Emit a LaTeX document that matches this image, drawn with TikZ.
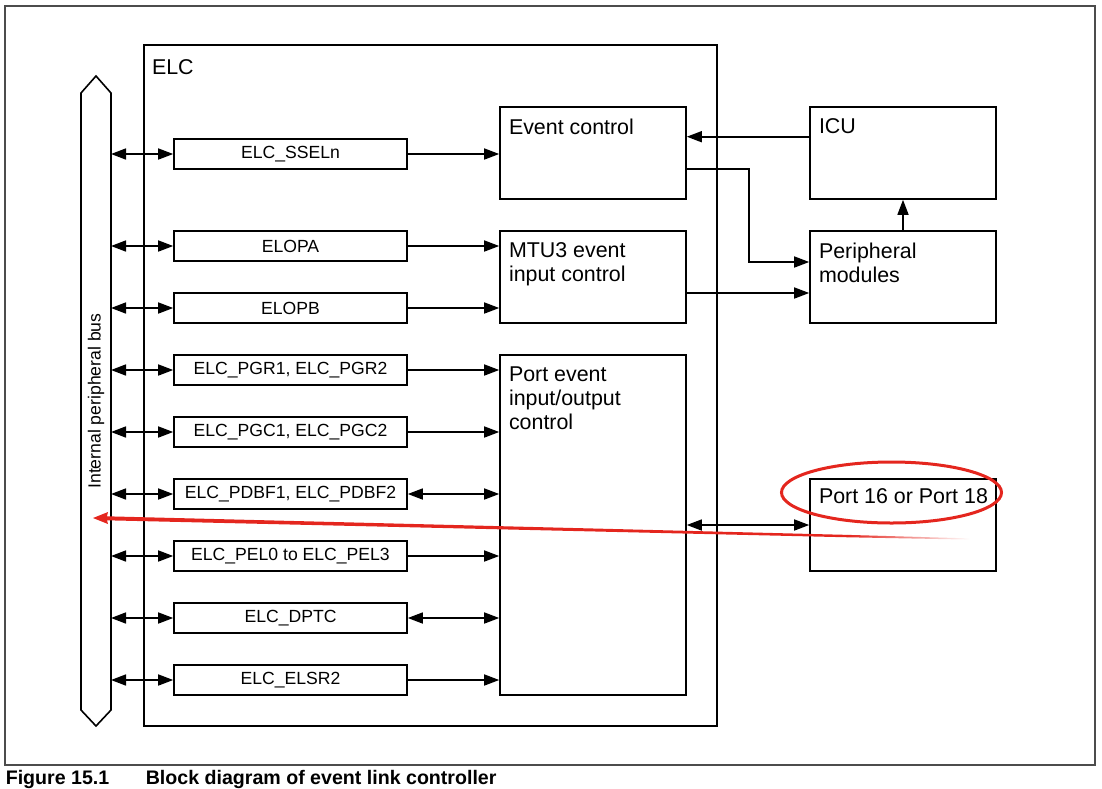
\documentclass[tikz,border=0pt]{standalone}
\usepackage{fontspec}
\setmainfont{Liberation Sans}
\usetikzlibrary{arrows.meta, positioning, fit, calc}
\definecolor{markred}{RGB}{228,38,30}
\newcommand{\regsize}{\fontsize{8.8}{10.5}\selectfont}
\newcommand{\blocksize}{\fontsize{10.7}{12}\selectfont}
\newcommand{\capsize}{\fontsize{9.8}{11}\selectfont}
\tikzstyle{arrow} = [-{Triangle[length=7.5pt,width=5.5pt]}]
\tikzstyle{dblarrow} = [{Triangle[length=7.5pt,width=5.5pt]}-{Triangle[length=7.5pt,width=5.5pt]}]
\tikzstyle{reg} = [rectangle, minimum width=116.5pt, minimum height=15pt, inner sep=0pt, text centered, draw=black, font=\regsize]
\tikzstyle{block} = [rectangle, minimum width=93pt, minimum height=46pt, inner sep=0pt, draw=black]
\tikzstyle{blocktext} = [anchor=north west, align=left, inner sep=0pt, xshift=4.5pt, yshift=-6pt, font=\blocksize]

\begin{document}
\begin{tikzpicture}[x=0.5pt, y=-0.5pt, node distance=31pt, line width=0.8pt]
\useasboundingbox (0,0) rectangle (1102,788);

% Frame
\draw[line width=0.6pt, black!70] (5,6) rectangle (1095,765);

% ELC outline
\node (elc) [draw=black, inner sep=0pt, fit={(144,45) (717,726)},
  label={[blocktext, xshift=-0.5pt, yshift=-1.5pt]north west:ELC}] {};

% Internal bus
\draw (81,93) -- (96,76) -- (111,93) -- (111,710) -- (96,726) -- (81,710) -- cycle;
\coordinate (busE) at (111,404);
\node (buslbl) [rotate=90, font=\regsize] at (96,401) {Internal peripheral bus};

% Registers
\node (ssel) [reg] at (290.5,154) {ELC\_SSELn};
\node (elopa) [reg, below of=ssel, yshift=-15pt] {ELOPA};
\node (elopb) [reg, below of=elopa] {ELOPB};
\node (pgr) [reg, below of=elopb] {ELC\_PGR1, ELC\_PGR2};
\node (pgc) [reg, below of=pgr] {ELC\_PGC1, ELC\_PGC2};
\node (pdbf) [reg, below of=pgc] {ELC\_PDBF1, ELC\_PDBF2};
\node (pel) [reg, below of=pdbf] {ELC\_PEL0 to ELC\_PEL3};
\node (dptc) [reg, below of=pel] {ELC\_DPTC};
\node (elsr) [reg, below of=dptc] {ELC\_ELSR2};

% Control blocks
\node (evc) [block, label={[blocktext]north west:Event control}] at (593,153) {};
\node (mtu) [block, label={[blocktext]north west:MTU3 event\\input control}] at (593,277) {};
\node (ports) [block, minimum height=170pt, label={[blocktext]north west:Port event\\input/output\\control}] at (593,525) {};

% Outside blocks
\node (icu) [block, label={[blocktext]north west:ICU}] at (903,153) {};
\node (periph) [block, label={[blocktext]north west:Peripheral\\modules}] at (903,277) {};
\node (port16) [block, label={[blocktext, yshift=1pt]north west:Port 16 or Port 18}] at (903,525) {};

% Bus connections
\foreach \r in {ssel, elopa, elopb, pgr, pgc, pdbf, pel, dptc, elsr}
  \draw [dblarrow] (busE |- \r.west) -- (\r.west);

% Register connections
\draw [arrow] (ssel) -- (ssel -| evc.west);
\draw [arrow] (elopa) -- (elopa -| mtu.west);
\draw [arrow] (elopb) -- (elopb -| mtu.west);
\draw [arrow] (pgr) -- (pgr -| ports.west);
\draw [arrow] (pgc) -- (pgc -| ports.west);
\draw [dblarrow] (pdbf) -- (pdbf -| ports.west);
\draw [arrow] (pel) -- (pel -| ports.west);
\draw [dblarrow] (dptc) -- (dptc -| ports.west);
\draw [arrow] (elsr) -- (elsr -| ports.west);

% Block connections
\draw [arrow] ([yshift=-15.25pt]icu.north west) -- ([yshift=-15.25pt]evc.north east);
\draw [arrow] ([yshift=-8pt]evc.east) -- ++(31pt,0) |- ([yshift=7.5pt]periph.west);
\draw [arrow] ([yshift=-8pt]mtu.east) -- ([yshift=-8pt]mtu.east -| periph.west);
\draw [arrow] (periph) -- (icu);
\draw [dblarrow] (port16) -- (port16 -| ports.east);

% Red marks
\draw [markred, line width=1.5pt] (891.5,492.5) ellipse [x radius=110, y radius=30.5];
\coordinate (redtip) at (93,518);
\coordinate (redtail) at (970,539);
\coordinate (redfade) at ($(redtip)!0.86!(redtail)$);
\fill [markred] (redtip) -- (108,512) -- (107,516.3) -- ([yshift=0.6pt]redfade) -- ([yshift=-0.6pt]redfade) -- (107,520.3) -- (108,524) -- cycle;
\shade [left color=markred, right color=white] ([yshift=0.6pt]redfade) -- ([yshift=0.3pt]redtail) -- ([yshift=-0.3pt]redtail) -- ([yshift=-0.6pt]redfade) -- cycle;

% Caption
\node (capnum) [anchor=base west, inner sep=0pt, font=\bfseries\capsize] at (5,784) {Figure 15.1};
\node (captxt) [anchor=base west, inner sep=0pt, font=\bfseries\capsize] at (145,784) {Block diagram of event link controller};

\end{tikzpicture}
\end{document}
